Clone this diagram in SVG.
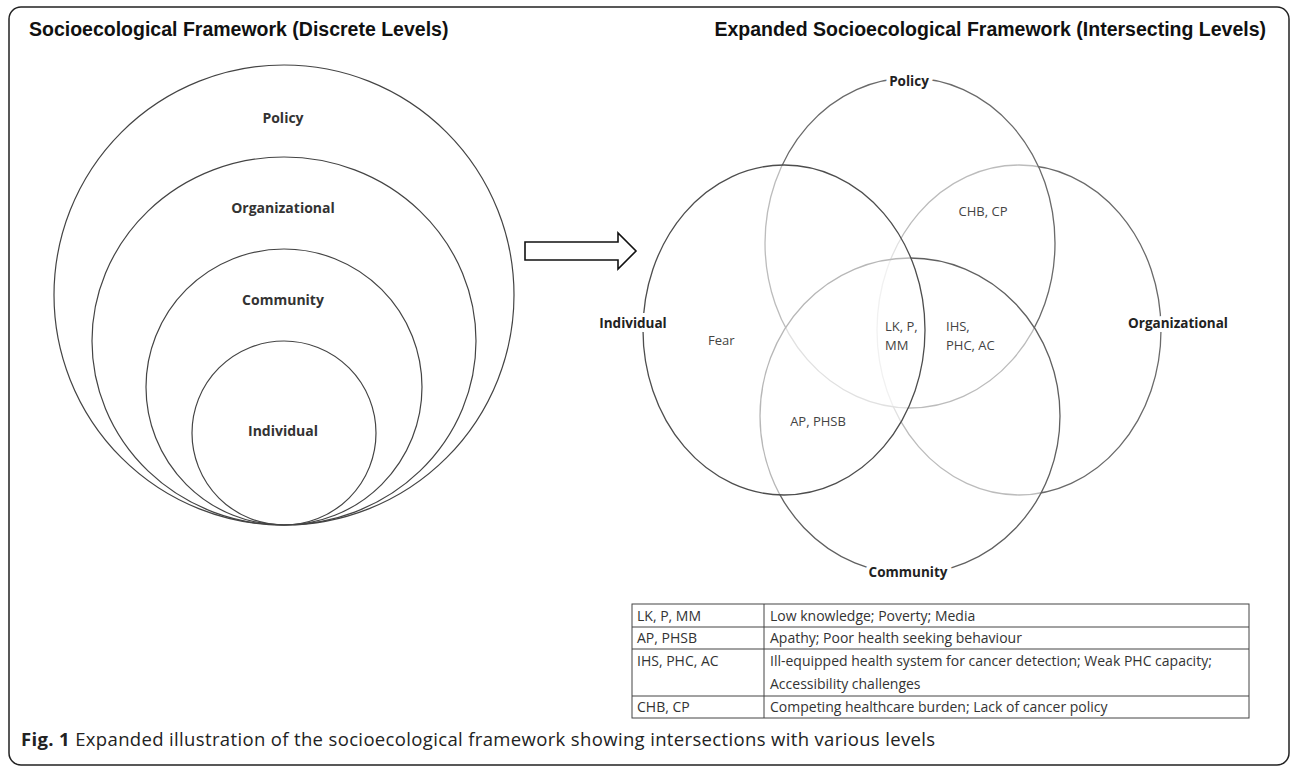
<svg xmlns="http://www.w3.org/2000/svg" width="1292" height="766" viewBox="0 0 1292 766">
  <defs>
    <style>
      .title { font-family: "Liberation Sans", Arial, sans-serif; font-weight: bold; font-size: 19.5px; fill: #111; }
      .lbl { font-family: "Open Sans", "Liberation Sans", sans-serif; font-weight: bold; font-size: 14px; fill: #333; text-anchor: middle; }
      .vlbl { font-family: "Open Sans", "Liberation Sans", sans-serif; font-weight: bold; font-size: 13.5px; fill: #222; text-anchor: middle; paint-order: stroke; stroke: #fff; stroke-width: 8px; stroke-linejoin: round; }
      .inner { font-family: "Open Sans", "Liberation Sans", sans-serif; font-size: 13px; fill: #444; }
      .ring { fill: none; stroke: #444; stroke-width: 1.2; }
      .venn { fill: #fff; fill-opacity: 0.55; stroke-width: 1.3; }
      .tbl { font-family: "Open Sans", "Liberation Sans", sans-serif; font-size: 14px; fill: #333; }
      .cap { font-family: "Open Sans", "Liberation Sans", sans-serif; font-size: 18.5px; letter-spacing: 0.35px; fill: #222; }
    </style>
  </defs>
  <rect x="0" y="0" width="1292" height="766" fill="#fff"/>
  <rect x="9" y="7" width="1280" height="758" rx="12" fill="none" stroke="#222" stroke-width="1.5"/>

  <text class="title" x="29" y="36">Socioecological Framework (Discrete Levels)</text>
  <text class="title" x="1266" y="36" text-anchor="end">Expanded Socioecological Framework (Intersecting Levels)</text>

  <g id="discrete-policy">
    <circle class="ring" cx="284" cy="295" r="230"/>
    <text class="lbl" x="283" y="123">Policy</text>
  </g>
  <g id="discrete-organizational">
    <ellipse class="ring" cx="284" cy="341" rx="192" ry="184"/>
    <text class="lbl" x="283" y="213">Organizational</text>
  </g>
  <g id="discrete-community">
    <circle class="ring" cx="284" cy="387" r="138"/>
    <text class="lbl" x="283" y="305">Community</text>
  </g>
  <g id="discrete-individual">
    <circle class="ring" cx="284" cy="433" r="92"/>
    <text class="lbl" x="283" y="436">Individual</text>
  </g>

  <g id="connectors">
    <polygon points="525,242 618,242 618,233 636,251 618,269 618,260 525,260" fill="#fff" stroke="#111" stroke-width="1.6" stroke-linejoin="miter"/>
  </g>

  <g id="venn-organizational">
    <ellipse class="venn" cx="1019" cy="330" rx="142" ry="165" stroke="#6a6a6a"/>
  </g>
  <g id="venn-policy">
    <ellipse class="venn" cx="910" cy="243" rx="145" ry="165" stroke="#6a6a6a"/>
  </g>
  <g id="venn-community">
    <ellipse class="venn" cx="910" cy="416" rx="150" ry="158" stroke="#606060"/>
  </g>
  <g id="venn-individual">
    <ellipse class="venn" cx="784" cy="330" rx="141" ry="165" stroke="#4d4d4d"/>
  </g>

  <g id="venn-labels">
    <text class="vlbl" x="909" y="86">Policy</text>
    <text class="vlbl" x="633" y="328">Individual</text>
    <text class="vlbl" x="1178" y="328">Organizational</text>
    <text class="vlbl" x="908" y="577">Community</text>
  </g>

  <g id="intersections">
    <text class="inner" x="983" y="216" text-anchor="middle">CHB, CP</text>
    <text class="inner" x="708" y="345">Fear</text>
    <text class="inner" x="885" y="331">LK, P,</text>
    <text class="inner" x="885" y="350">MM</text>
    <text class="inner" x="946" y="331">IHS,</text>
    <text class="inner" x="946" y="350">PHC, AC</text>
    <text class="inner" x="818" y="426" text-anchor="middle">AP, PHSB</text>
  </g>

  <g id="legend-table">
    <g fill="none" stroke="#444" stroke-width="1">
      <rect x="632" y="604" width="617" height="114"/>
      <line x1="632" y1="627" x2="1249" y2="627"/>
      <line x1="632" y1="649" x2="1249" y2="649"/>
      <line x1="632" y1="696" x2="1249" y2="696"/>
      <line x1="764" y1="604" x2="764" y2="718"/>
    </g>
    <text class="tbl" x="637" y="621">LK, P, MM</text>
    <text class="tbl" x="770" y="621">Low knowledge; Poverty; Media</text>
    <text class="tbl" x="637" y="643">AP, PHSB</text>
    <text class="tbl" x="770" y="643">Apathy; Poor health seeking behaviour</text>
    <text class="tbl" x="637" y="666">IHS, PHC, AC</text>
    <text class="tbl" x="770" y="666">Ill-equipped health system for cancer detection; Weak PHC capacity;</text>
    <text class="tbl" x="770" y="689">Accessibility challenges</text>
    <text class="tbl" x="637" y="712">CHB, CP</text>
    <text class="tbl" x="770" y="712">Competing healthcare burden; Lack of cancer policy</text>
  </g>

  <text class="cap" x="21" y="746"><tspan font-weight="bold">Fig. 1</tspan> Expanded illustration of the socioecological framework showing intersections with various levels</text>
</svg>
